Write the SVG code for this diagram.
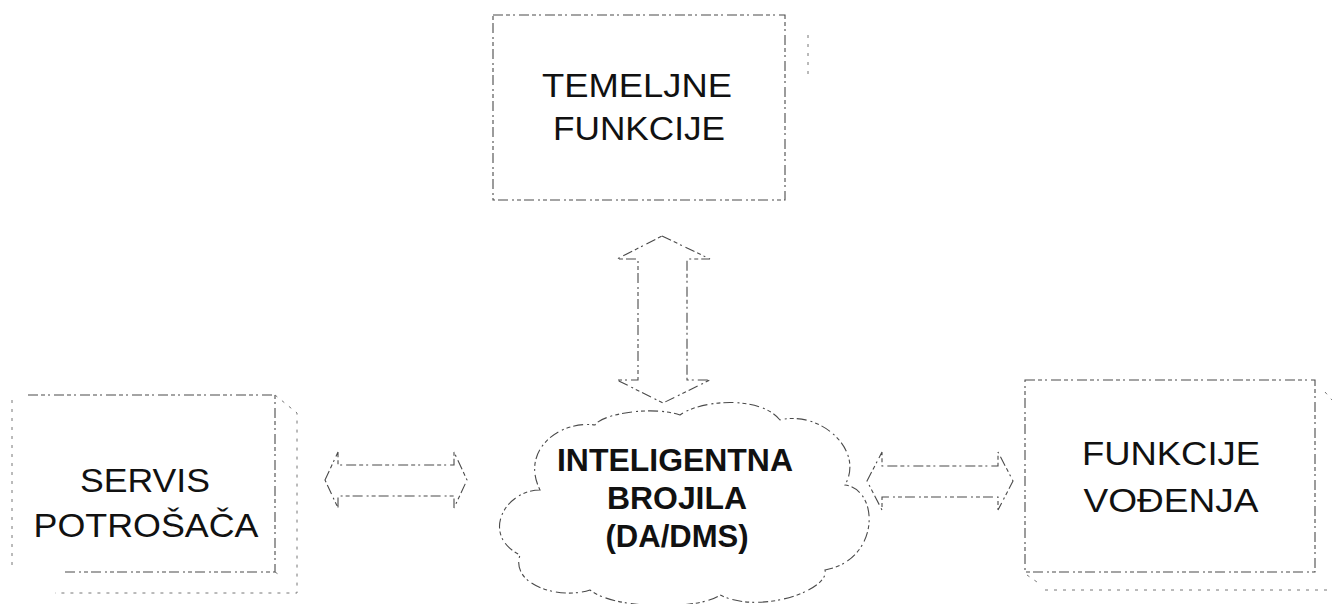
<svg xmlns="http://www.w3.org/2000/svg" width="1332" height="604" viewBox="0 0 1332 604">
<defs>
<style>
.ln{fill:none;stroke:#4a4a4a;stroke-width:1.1;stroke-dasharray:10 3 4 3 2 4}
.fa{fill:none;stroke:#777;stroke-width:1;stroke-dasharray:3 6}
.t{font-family:"Liberation Sans",Arial,sans-serif;font-size:33px;fill:#111;text-anchor:middle}
.b{font-family:"Liberation Sans",Arial,sans-serif;font-size:32px;font-weight:bold;fill:#111;text-anchor:middle}
</style>
</defs>
<rect width="1332" height="604" fill="#fff"/>

<g id="temeljne">
<rect class="ln" x="493" y="15" width="292" height="185"/>
<line class="fa" x1="808" y1="35" x2="808" y2="80"/>
<text class="t" x="637" y="97" textLength="190" lengthAdjust="spacingAndGlyphs">TEMELJNE</text>
<text class="t" x="639" y="140" textLength="172" lengthAdjust="spacingAndGlyphs">FUNKCIJE</text>
</g>

<g id="servis">
<path class="ln" d="M28 395 H275 V572 H65"/>
<line class="fa" x1="12" y1="400" x2="12" y2="570"/>
<path class="fa" d="M275 395 L297 413 V593 H55 M275 572 L281 576"/>
<text class="t" x="145" y="492" textLength="130" lengthAdjust="spacingAndGlyphs">SERVIS</text>
<text class="t" x="146" y="537" textLength="225" lengthAdjust="spacingAndGlyphs">POTROŠAČA</text>
</g>

<g id="brojila">
<path class="ln" d="M540 490 C505 490,480 535,520 555 C510 585,560 600,590 590 C615 610,700 610,720 595 C760 615,830 590,825 570 C880 560,880 490,845 485 C865 450,820 410,780 420 C760 395,700 400,680 415 C650 405,600 415,595 425 C560 420,520 450,540 490 Z"/>
<text class="b" x="675" y="471" textLength="236" lengthAdjust="spacingAndGlyphs">INTELIGENTNA</text>
<text class="b" x="677" y="509" textLength="140" lengthAdjust="spacingAndGlyphs">BROJILA</text>
<text class="b" x="677" y="547" textLength="143" lengthAdjust="spacingAndGlyphs">(DA/DMS)</text>
</g>

<g id="vodenja">
<rect class="ln" x="1025" y="380" width="290" height="192"/>
<path class="fa" d="M1325 392 L1332 400 M1045 590 H1332 M1027 575 L1037 582"/>
<text class="t" x="1171" y="465" textLength="178" lengthAdjust="spacingAndGlyphs">FUNKCIJE</text>
<text class="t" x="1171" y="512" textLength="175" lengthAdjust="spacingAndGlyphs">VOĐENJA</text>
</g>

<g id="connectors">
<polygon class="ln" points="662,236 710,259 687,259 687,380 710,380 663,403 617,380 638,380 638,259 617,259"/>
<polygon class="ln" points="325,480 338,452 338,465 454,465 454,452 467,480 454,508 454,496 338,496 338,508"/>
<polygon class="ln" points="867,481 882,452 882,466 998,466 998,452 1013,481 998,510 998,497 882,497 882,510"/>
</g>
</svg>
